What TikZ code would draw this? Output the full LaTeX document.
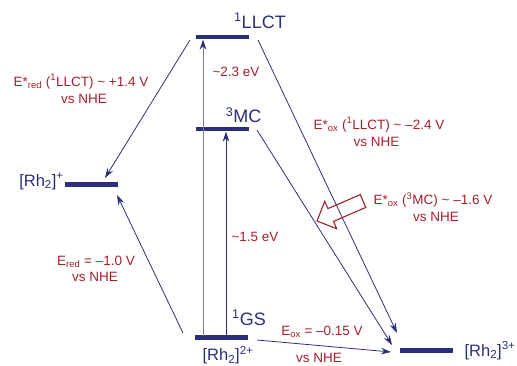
\documentclass[tikz,border=0pt]{standalone}
\usepackage{fontspec}
\setmainfont{Liberation Sans}
\usetikzlibrary{arrows.meta}
\definecolor{navy}{HTML}{2B2F7A}
\definecolor{lnavy}{HTML}{7C7CB2}
\definecolor{dred}{HTML}{A3202B}
\begin{document}
\begin{tikzpicture}[x=1pt,y=-1pt,
  bar/.style={fill=navy, minimum width=53pt, minimum height=4.5pt, inner sep=0pt, draw=none},
  lvl/.style={text=navy, font=\fontsize{18}{20}\selectfont, inner sep=0pt, anchor=base},
  rh/.style={text=navy, font=\fontsize{16.5}{18}\selectfont, inner sep=0pt, anchor=base},
  pot/.style={text=dred, font=\fontsize{13.5}{16}\selectfont, inner sep=0pt, anchor=base},
  conn/.style={draw=navy, line width=0.8pt, -{Stealth[length=10pt,width=6.5pt]}},
  lconn/.style={draw=lnavy, line width=0.8pt, -{Stealth[length=10pt,width=6.5pt,color=navy]}},
  hollow/.style={draw=dred, line width=1.1pt, line join=miter},
]
\useasboundingbox (0,0) rectangle (517,365);

% levels
\node[bar] (llct) at (222,37) {};
\node[bar] (mc) at (222,129) {};
\node[bar] (gs) at (221.5,337.5) {};
\node[bar] (rhp) at (91.5,184.5) {};
\node[bar] (rh3) at (426,350.5) {};

% level labels
\node[lvl] (llctlab) at (260,28) {\textsuperscript{1}LLCT};
\node[lvl] (mclab) at (243.5,122.7) {\textsuperscript{3}MC};
\node[lvl] (gslab) at (249,325) {\textsuperscript{1}GS};
\node[rh] (gsrh) at (228,360.5) {[Rh\textsubscript{2}]\textsuperscript{2+}};
\node[rh] (rhplab) at (41.5,186) {[Rh\textsubscript{2}]\textsuperscript{+}};
\node[rh] (rh3lab) at (490,356) {[Rh\textsubscript{2}]\textsuperscript{3+}};

% connector end points
\coordinate (c1s) at (190,40);   \coordinate (c1e) at (105,178);
\coordinate (c2s) at (183,333);  \coordinate (c2e) at (117,195);
\coordinate (c3s) at (258,40);   \coordinate (c3e) at (397,333);
\coordinate (c4s) at (257,130);  \coordinate (c4e) at (392,345);
\coordinate (c5s) at (257,340);  \coordinate (c5e) at (391,352);
\coordinate (v1s) at (203,335.5); \coordinate (v1e) at (203,39.5);
\coordinate (v2s) at (226,335.5); \coordinate (v2e) at (226,131.5);

\draw[lconn] (v1s) -- (v1e);
\draw[conn] (v2s) -- (v2e);
\draw[conn] (c1s) -- (c1e);
\draw[conn] (c2s) -- (c2e);
\draw[conn] (c3s) -- (c3e);
\draw[conn] (c4s) -- (c4e);
\draw[conn] (c5s) -- (c5e);

% hollow arrow
\draw[hollow] (317,221) -- (324.7,201.3) -- (327.9,208.6) -- (360.2,194.6)
  -- (365.8,207.4) -- (333.5,221.4) -- (336.7,228.7) -- cycle;

% potentials
\node[pot] (t1a) at (81,86) {E*\textsubscript{red} (\textsuperscript{1}LLCT) \textasciitilde{} +1.4 V};
\node[pot] (t1b) at (84,103) {vs NHE};
\node[pot] (t2a) at (379,129) {E*\textsubscript{ox} (\textsuperscript{1}LLCT) \textasciitilde{} –2.4 V};
\node[pot] (t2b) at (376.5,146.7) {vs NHE};
\node[pot] (t3a) at (433,204.3) {E*\textsubscript{ox} (\textsuperscript{3}MC) \textasciitilde{} –1.6 V};
\node[pot] (t3b) at (436,221.7) {vs NHE};
\node[pot] (t4a) at (96,265) {E\textsubscript{red} = –1.0 V};
\node[pot] (t4b) at (95,281.7) {vs NHE};
\node[pot] (t5a) at (322,335) {E\textsubscript{ox} = –0.15 V};
\node[pot] (t5b) at (319,362) {vs NHE};
\node[pot] (e1) at (236,76.7) {\textasciitilde2.3 eV};
\node[pot] (e2) at (255,241.7) {\textasciitilde1.5 eV};
\end{tikzpicture}
\end{document}
